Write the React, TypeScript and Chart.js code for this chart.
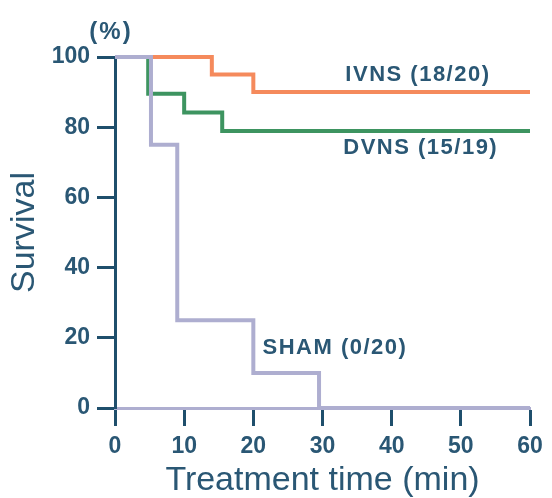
import { useEffect, useRef } from 'react';
import { Chart, registerables } from 'chart.js';

Chart.register(...registerables);

// Kaplan–Meier survival steps: time (min) and survival (%) at each event
const ivnsTimes = [0, 14, 20, 60];
const ivnsSurvival = [100, 95, 90, 90];

const dvnsTimes = [0, 4.8, 10, 15.5, 60];
const dvnsSurvival = [100, 89.5, 84.2, 78.9, 78.9];

const shamTimes = [0, 5.2, 9, 20, 29.5, 60];
const shamSurvival = [100, 75, 25, 10, 0, 0];

const seriesNames = ['IVNS (18/20)', 'DVNS (15/19)', 'SHAM (0/20)'];

const xTicks = [0, 10, 20, 30, 40, 50, 60];
const yTicks = [0, 20, 40, 60, 80, 100];

const xTitle = 'Treatment time (min)';
const yTitle = 'Survival';
const yUnit = '(%)';

// where each curve's name sits, in (minutes, percent)
const labelAnchors: [number, number][] = [
  [43.8, 95],
  [44.2, 74],
  [31.8, 17],
];

const ORANGE = '#f58a5c';
const GREEN = '#3d9460';
const LAVENDER = '#aeaed0';
const AXIS = '#1f4f6c';
const TEXT = '#2a5774';
const SANS = '"Liberation Sans", Arial, Helvetica, sans-serif';

const toPoints = (xs: number[], ys: number[]) => xs.map((x, i) => ({ x, y: ys[i] }));

const curveLabels = {
  id: 'curveLabels',
  afterDatasetsDraw(chart: any) {
    const { ctx, chartArea } = chart;
    const xs = chart.scales.x;
    const ys = chart.scales.y;
    ctx.save();
    ctx.fillStyle = TEXT;
    ctx.textAlign = 'center';
    ctx.textBaseline = 'middle';
    ctx.font = `bold 22px ${SANS}`;
    (ctx as any).letterSpacing = '1.5px';
    seriesNames.forEach((name, i) => {
      const [t, s] = labelAnchors[i];
      ctx.fillText(name, xs.getPixelForValue(t), ys.getPixelForValue(s));
    });
    ctx.font = `bold 24px ${SANS}`;
    (ctx as any).letterSpacing = '2px';
    ctx.fillText(yUnit, chartArea.left - 4, chartArea.top - 25);
    ctx.restore();
  },
};

export default function App() {
  const canvasRef = useRef<HTMLCanvasElement | null>(null);

  useEffect(() => {
    if (!canvasRef.current) return;
    const tickFont = { family: SANS, size: 23, weight: 'bold' as const, lineHeight: 1.2 };
    const titleFont = { family: SANS, size: 34, weight: 'normal' as const, lineHeight: 1 };

    const chart = new Chart(canvasRef.current, {
      type: 'line',
      data: {
        datasets: [
          {
            label: seriesNames[2],
            data: toPoints(shamTimes, shamSurvival),
            borderColor: LAVENDER,
            borderWidth: 4,
            stepped: 'before',
            pointRadius: 0,
            clip: 8,
          },
          {
            label: seriesNames[0],
            data: toPoints(ivnsTimes, ivnsSurvival),
            borderColor: ORANGE,
            borderWidth: 4,
            stepped: 'before',
            pointRadius: 0,
            clip: 8,
          },
          {
            label: seriesNames[1],
            data: toPoints(dvnsTimes, dvnsSurvival),
            borderColor: GREEN,
            borderWidth: 4,
            stepped: 'before',
            pointRadius: 0,
            clip: 8,
          },
        ],
      },
      options: {
        animation: false,
        responsive: true,
        maintainAspectRatio: false,
        layout: { padding: { top: 57, right: 22, left: 0, bottom: 0 } },
        plugins: {
          legend: { display: false },
          tooltip: { enabled: false },
        },
        scales: {
          x: {
            type: 'linear',
            min: 0,
            max: 60,
            afterFit: (scale: any) => {
              scale.height = 90;
            },
            afterBuildTicks: (scale: any) => {
              scale.ticks = xTicks.map((v) => ({ value: v }));
            },
            ticks: { color: TEXT, font: tickFont, padding: 7, maxRotation: 0, autoSkip: false },
            grid: {
              drawOnChartArea: false,
              drawTicks: true,
              tickLength: 18,
              tickWidth: 3,
              tickColor: AXIS,
            },
            border: { display: true, color: LAVENDER, width: 3 },
            title: {
              display: true,
              text: xTitle,
              color: TEXT,
              font: titleFont,
              padding: { top: 0, bottom: 0 },
            },
          },
          y: {
            type: 'linear',
            min: 0,
            max: 100,
            afterFit: (scale: any) => {
              scale.width = 115;
            },
            afterBuildTicks: (scale: any) => {
              scale.ticks = yTicks.map((v) => ({ value: v }));
            },
            ticks: { color: TEXT, font: tickFont, padding: 7 },
            grid: {
              drawOnChartArea: false,
              drawTicks: true,
              tickLength: 18,
              tickWidth: 3,
              tickColor: AXIS,
            },
            border: { display: true, color: AXIS, width: 3 },
            title: {
              display: true,
              text: yTitle,
              color: TEXT,
              font: titleFont,
              padding: { top: 8, bottom: 0 },
            },
          },
        },
      },
      plugins: [curveLabels],
    });

    return () => chart.destroy();
  }, []);

  return (
    <div style={{ position: 'absolute', left: 0, top: 0, width: 552, height: 498, background: '#fff' }}>
      <canvas ref={canvasRef} />
    </div>
  );
}
